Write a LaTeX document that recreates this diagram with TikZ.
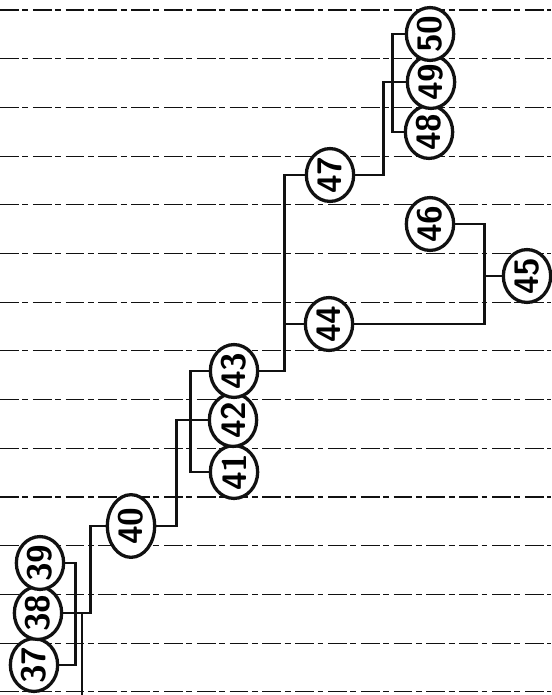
\documentclass[tikz,border=0pt]{standalone}
\usepackage{tikz}
\usepackage{xcolor}
\usetikzlibrary{shapes.geometric, calc}
\definecolor{Ink_Black}{HTML}{111111}
\newcommand{\famnum}[1]{\rotatebox{90}{#1}}

\begin{document}
\begin{tikzpicture}[x=0.03cm, y=-0.03cm,
    person/.style={ellipse, draw=Ink_Black, line width=2.8pt, fill=white, minimum width=1.42cm, minimum height=1.52cm, inner sep=0pt, font=\sffamily\bfseries\fontsize{29}{29}\selectfont},
    link/.style={line width=2.4pt, Ink_Black},
    rule/.style={line width=0.9pt, Ink_Black, dash pattern=on 16pt off 3pt on 5pt off 4pt}]
    \useasboundingbox (0,0) rectangle (551,695);

    % ===== Ruled paper =====
    \foreach \k in {0,...,14}
        \draw[rule] (0,{10+48.7*\k}) -- (551,{10+48.7*\k});

    % ===== Generation 37-40 =====
    \node[person] (n37) at (34,665) {\famnum{37}};
    \node[person] (n38) at (38,613) {\famnum{38}};
    \node[person] (n39) at (40,563) {\famnum{39}};
    \node[person, minimum height=1.88cm] (n40) at (131,526) {\famnum{40}};

    % ===== Generation 41-44 =====
    \node[person] (n41) at (234,472) {\famnum{41}};
    \node[person] (n42) at (233,420) {\famnum{42}};
    \node[person] (n43) at (234,371) {\famnum{43}};
    \node[person] (n44) at (329,324) {\famnum{44}};

    % ===== Generation 45-50 =====
    \node[person] (n45) at (527,276) {\famnum{45}};
    \node[person] (n46) at (430,224) {\famnum{46}};
    \node[person] (n47) at (330,175) {\famnum{47}};
    \node[person] (n48) at (429,132) {\famnum{48}};
    \node[person] (n49) at (431,82) {\famnum{49}};
    \node[person] (n50) at (430,34) {\famnum{50}};

    % Links
    \coordinate (down) at (82,695);
    \draw[link] (n39.east) -- ++(10,0) |- (n37.east);
    \draw[link] (n38.east) -| (down);
    \draw[link] (n38.east) -- ++(27,0) |- (n40.west);
    \draw[link] (n40.east) -- ++(20,0) |- (n42.west);
    \draw[link] (n43.west) -- ++(-18,0) |- (n41.west);
    \draw[link] (n43.east) -- ++(25,0) coordinate (j43) |- (n47.west);
    \draw[link] (n44.west) -- (n44.west -| j43);
    \draw[link] (n47.east) -- ++(28,0) |- (n49.west);
    \draw[link] (n50.west) -- ++(-12,0) |- (n48.west);
    \draw[link] (n44.east) -- ++(130,0) coordinate (j44) |- (n46.east);
    \draw[link] (n45.west) -- (n45.west -| j44);
\end{tikzpicture}
\end{document}
